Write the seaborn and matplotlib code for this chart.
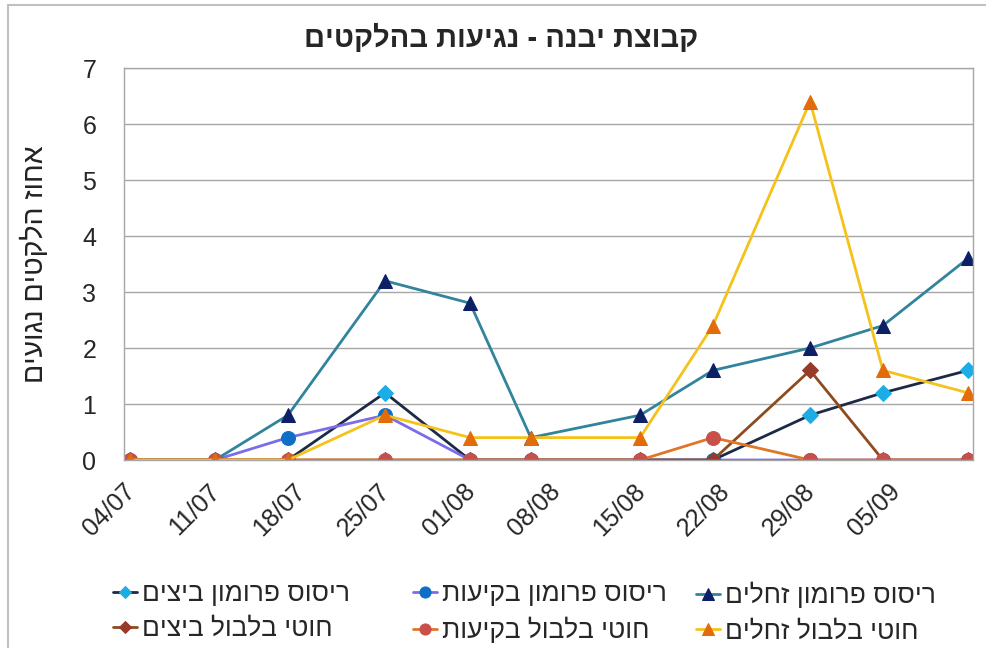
import pandas as pd
import seaborn as sns
import matplotlib.pyplot as plt
import matplotlib.dates as mdates
from matplotlib.transforms import ScaledTranslation

# sample dates (day/month shown on axis)
dates = ["2013-07-04", "2013-07-11", "2013-07-17", "2013-07-25", "2013-08-01",
         "2013-08-06", "2013-08-15", "2013-08-21", "2013-08-29", "2013-09-04",
         "2013-09-11"]

pheromone_eggs = [0, 0, 0, 1.2, 0, 0, 0, 0, 0.8, 1.2, 1.6]
pheromone_hatch = [0, 0, 0.4, 0.8, 0, 0, 0, 0, 0, 0, 0]
pheromone_larvae = [0, 0, 0.8, 3.2, 2.8, 0.4, 0.8, 1.6, 2.0, 2.4, 3.6]
ties_eggs = [0, 0, 0, 0, 0, 0, 0, 0, 1.6, 0, 0]
ties_hatch = [0, 0, 0, 0, 0, 0, 0, 0.4, 0, 0, 0]
ties_larvae = [0, 0, 0, 0.8, 0.4, 0.4, 0.4, 2.4, 6.4, 1.6, 1.2]

labels = ["ריסוס פרומון ביצים", "ריסוס פרומון בקיעות", "ריסוס פרומון זחלים",
          "חוטי בלבול ביצים", "חוטי בלבול בקיעות", "חוטי בלבול זחלים"]
title = "קבוצת יבנה - נגיעות בהלקטים"
ylabel = "אחוז הלקטים נגועים"


def vis(s):
    # matplotlib has no bidi support, so put Hebrew in visual order
    return s[::-1]


sns.set_theme(style="white")
plt.rcParams['font.family'] = ['Liberation Sans', 'DejaVu Sans']

x = pd.to_datetime(dates)
series = [pheromone_eggs, pheromone_hatch, pheromone_larvae,
          ties_eggs, ties_hatch, ties_larvae]
# (line colour, marker, marker colour, marker size)
styles = [("#1c2a48", "D", "#1cade4", 8),
          ("#7b6cea", "o", "#0f6fc6", 10),
          ("#31849b", "^", "#0d1f66", 10),
          ("#8e4b1e", "D", "#963a2a", 8),
          ("#e07628", "o", "#c8504b", 10),
          ("#f5c21b", "^", "#e36c0a", 10)]

fig = plt.figure(figsize=(9.87, 6.48), dpi=100)
ax = fig.add_axes([124 / 987, 1 - 460 / 648, (973 - 124) / 987, (460 - 68) / 648])

for vals, (lc, m, mc, ms) in zip(series, styles):
    sns.lineplot(x=x, y=vals, ax=ax, color=lc, linewidth=2, marker=m,
                 markersize=ms, markerfacecolor=mc, markeredgecolor=mc,
                 legend=False)

ax.set_ylim(0, 7)
ax.set_yticks(range(0, 8))
ax.set_xlim(x[0] - pd.Timedelta(hours=12), x[-1] + pd.Timedelta(hours=10))
ax.set_xticks(pd.date_range(dates[0], "2013-09-05", freq="7D"))
ax.xaxis.set_major_formatter(mdates.DateFormatter("%d/%m"))
ax.grid(axis='y', color='#a6a6a6', linewidth=1)
ax.set_axisbelow(True)
for sp in ax.spines.values():
    sp.set_color('#a6a6a6')
    sp.set_linewidth(1)
ax.tick_params(axis='y', length=0, pad=20, labelsize=18)
ax.tick_params(axis='x', length=0, pad=14, labelsize=18)
shift = ScaledTranslation(-0.07, 0, fig.dpi_scale_trans)
for lab in ax.get_xticklabels():
    lab.set_rotation(45)
    lab.set_ha('right')
    lab.set_rotation_mode('anchor')
    lab.set_transform(lab.get_transform() + shift)
ax.set_xlabel("")
ax.set_ylabel(vis(ylabel), fontsize=20.5, color='#222222')
ax.yaxis.set_label_coords(-0.088, 0.5)

fig.text(0.508, 0.94, vis(title), ha='center', va='center',
         fontsize=21, fontweight='bold')

# legend: three columns, two rows
lines = ax.get_lines()
col_x = [113, 413, 696]
for i, cx in enumerate(col_x):
    idx = [i, i + 3]
    fig.legend([lines[j] for j in idx], [vis(labels[j]) for j in idx],
               loc='upper left', bbox_to_anchor=(cx / 987, 1 - 582 / 648),
               frameon=False, borderpad=0, borderaxespad=0, fontsize=19,
               handlelength=0.9, handletextpad=0.2, labelspacing=0.42,
               markerscale=0.8)

# chart area border (cropped on the right and bottom)
fig.add_artist(plt.Line2D([8 / 987, 1], [1 - 5 / 648] * 2, transform=fig.transFigure,
                          color='#c0c0c0', linewidth=1.5))
fig.add_artist(plt.Line2D([8 / 987] * 2, [0, 1 - 5 / 648], transform=fig.transFigure,
                          color='#c0c0c0', linewidth=1.5))

fig.savefig("out.png", dpi=100)
